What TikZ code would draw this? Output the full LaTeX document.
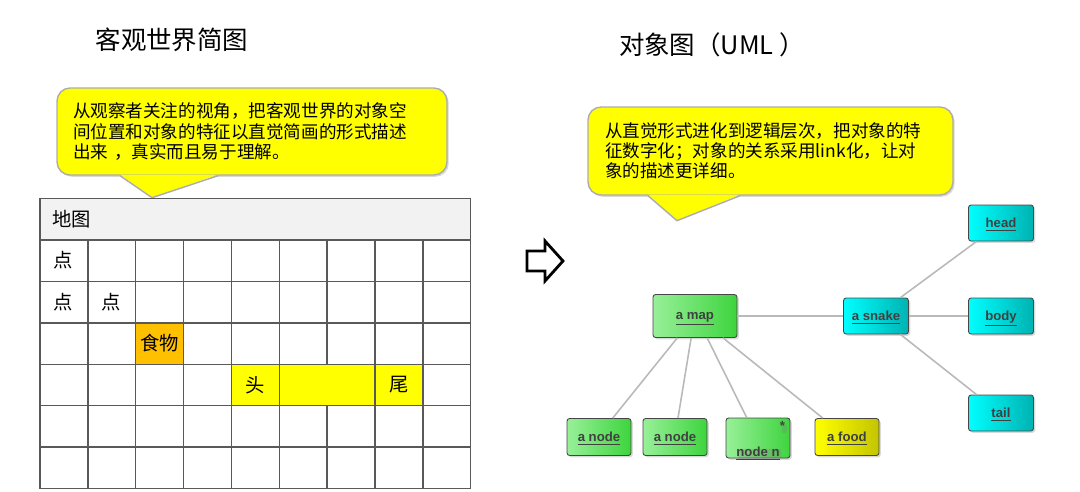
\documentclass[tikz,border=0pt]{standalone}
\usepackage{fontspec}
\setmainfont{Noto Sans CJK SC}
\newfontfamily\umlfont{Liberation Sans}
\usetikzlibrary{calc, positioning, shadows}

\definecolor{noteyellow}{RGB}{255,255,0}
\definecolor{foodorange}{RGB}{255,192,0}
\definecolor{headgray}{RGB}{242,242,242}
\definecolor{greenL}{RGB}{152,240,152}
\definecolor{greenR}{RGB}{62,212,62}
\definecolor{cyanL}{RGB}{0,255,255}
\definecolor{cyanR}{RGB}{0,178,178}
\definecolor{yellowL}{RGB}{255,255,0}
\definecolor{yellowR}{RGB}{196,196,0}

\tikzset{
  note/.style={rectangle, rounded corners=0.26cm, draw=gray!65, line width=0.8pt,
    fill=noteyellow, align=left, font=\fontsize{10pt}{11.5pt}\selectfont,
    drop shadow={shadow xshift=1pt, shadow yshift=-1pt, opacity=0.3}},
  notetip/.style={draw=gray!65, line width=0.8pt, line join=miter},
  gridline/.style={draw=black!65, line width=0.8pt},
  celltext/.style={font=\fontsize{11pt}{13pt}\selectfont, inner sep=0pt},
  title/.style={font=\fontsize{14.5pt}{17pt}\selectfont},
  obj/.style={rectangle, rounded corners=1.5pt, draw=gray!55!black, line width=0.5pt,
    minimum width=1.28cm, minimum height=0.74cm, text=black!75, text depth=0.5pt,
    font=\umlfont\bfseries\fontsize{7.5pt}{9pt}\selectfont,
    drop shadow={shadow xshift=1pt, shadow yshift=-1pt, opacity=0.3}},
  objgreen/.style={obj, left color=greenL, right color=greenR},
  objcyan/.style={obj, left color=cyanL, right color=cyanR, minimum width=1.3cm, minimum height=0.72cm},
  objyellow/.style={obj, left color=yellowL, right color=yellowR},
  link/.style={draw=gray!55, line width=0.9pt}
}

\begin{document}
\begin{tikzpicture}[x=0.02cm, y=-0.02cm]
        \useasboundingbox (0,0) rectangle (1080,491);

        % Titles
        \node (title1) [title] at (172,40) {客观世界简图};
        \node (title2) [title] at (712,45) {对象图（UML\ ）};

        % Left note
        \node (note1) [note, inner xsep=0.32cm, text width=7.16cm, minimum height=1.74cm] at (252,131.5)
        {从观察者关注的视角，把客观世界的对象空\\间位置和对象的特征以直觉简画的形式描述\\出来 ，真实而且易于理解。};
        \fill[noteyellow] ($(note1.south)+(-132,-1.2)$) -- ($(note1.south)+(-100,22)$) -- ($(note1.south)+(-34,-1.2)$) -- cycle;
        \draw[notetip] ($(note1.south)+(-132,0)$) -- ($(note1.south)+(-100,22)$) -- ($(note1.south)+(-34,0)$);

        % Map grid
        \fill[headgray] (40,198.3) rectangle (470.65,240);
        \fill[foodorange] (135.7,322.8) rectangle (183.55,364.2);
        \fill[noteyellow] (231.4,364.2) rectangle (422.8,405.6);
        \foreach \y in {240,281.4,322.8,364.2,405.6,447}
            \draw[gridline] (40,\y) -- (470.65,\y);
        \foreach \x in {87.85,135.7,183.55,231.4,279.25,374.95,422.8}
            \draw[gridline] (\x,240) -- (\x,488.4);
        \draw[gridline] (327.1,240) -- (327.1,364.2) (327.1,405.6) -- (327.1,488.4);
        \draw[gridline] (40,198.3) rectangle (470.65,488.4);

        \node (maphead) [celltext] at (72,219) {地图};
        \node (pt1) [celltext] at (63,260) {点};
        \node (pt2) [celltext] at (63,302) {点};
        \node (pt3) [celltext] at (111,302) {点};
        \node (cellfood) [celltext] at (159.6,343.5) {食物};
        \node (cellhead) [celltext] at (255.3,385) {头};
        \node (celltail) [celltext] at (398.9,385) {尾};

        % Hollow arrow
        \draw[line width=1.6pt, line join=miter] (527,251) -- (545,251) -- (545,241) -- (563,261)
            -- (545,281) -- (545,271) -- (527,271) -- cycle;

        % Right note
        \node (note2) [note, inner xsep=0.34cm, text width=6.62cm, minimum height=1.76cm] at (770.5,151)
        {从直觉形式进化到逻辑层次，把对象的特\\征数字化；对象的关系采用link化，让对\\象的描述更详细。};
        \fill[noteyellow] ($(note2.south)+(-122.5,-1.2)$) -- ($(note2.south)+(-93.5,25)$) -- ($(note2.south)+(-30.5,-1.2)$) -- cycle;
        \draw[notetip] ($(note2.south)+(-122.5,0)$) -- ($(note2.south)+(-93.5,25)$) -- ($(note2.south)+(-30.5,0)$);

        % Object diagram
        \node (map) [objgreen, minimum width=1.68cm, minimum height=0.86cm] at (695,316) {\underline{a map}};
        \node (snake) [objcyan] at (876,316) {\underline{a snake}};
        \node (ohead) [objcyan] at (1001,223) {\underline{head}};
        \node (obody) [objcyan] at (1001,316) {\underline{body}};
        \node (otail) [objcyan] at (1001,413) {\underline{tail}};
        \node (node1) [objgreen] at (599,437) {\underline{a node}};
        \node (node2) [objgreen] at (675,437) {\underline{a node}};
        \node (noden) [objgreen, minimum height=0.8cm] at (758,438) {};
        \node (nodenname) [obj, draw=none, drop shadow={opacity=0}, minimum size=0pt, inner sep=0pt] at ($(noden.south)+(0,-6)$) {\underline{node n}};
        \node (nodenstar) [obj, draw=none, drop shadow={opacity=0}, minimum size=0pt, inner sep=0pt] at ($(noden.north east)+(-8,9)$) {*};
        \node (ofood) [objyellow] at (847,437) {\underline{a food}};

        \draw[link] (map.231) -- (node1.54);
        \draw[link] (map.260) -- (node2.81);
        \draw[link] (map.299) -- (noden.119);
        \draw[link] (map.322) -- (ofood.142);
        \draw[link] (map) -- (snake);
        \draw[link] (snake.37) -- (ohead.217);
        \draw[link] (snake) -- (obody);
        \draw[link] (snake.323) -- (otail.143);
\end{tikzpicture}
\end{document}
